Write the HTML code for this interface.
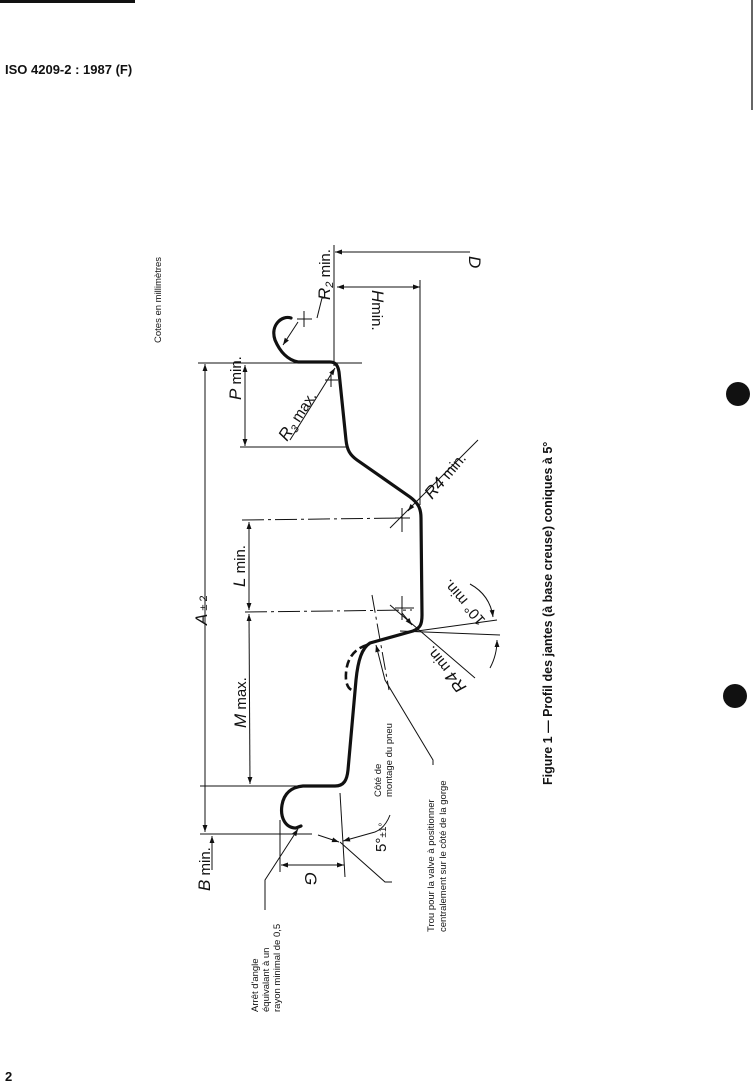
<!DOCTYPE html>
<html><head><meta charset="utf-8"><style>
html,body{margin:0;padding:0;background:#fff;width:754px;height:1090px;overflow:hidden}
svg{display:block}
text{font-family:"Liberation Sans",sans-serif;fill:#111}
.it{font-style:italic;font-size:17px}
.sm{font-size:9.5px}
</style></head><body>
<svg width="754" height="1090" viewBox="0 0 754 1090" xmlns="http://www.w3.org/2000/svg">
<defs>
<marker id="a" viewBox="0 0 10 10" refX="10" refY="5" markerWidth="9" markerHeight="7" orient="auto-start-reverse" markerUnits="userSpaceOnUse"><path d="M0,1.5 L10,5 L0,8.5 z" fill="#111"/></marker>
</defs>
<rect x="0" y="0" width="135" height="3" fill="#111"/>
<line x1="752" y1="0" x2="752" y2="110" stroke="#333" stroke-width="1.5"/>
<text x="5" y="74" style="font-size:13px;font-weight:bold">ISO 4209-2 : 1987 (F)</text>
<text x="5" y="1081" style="font-size:13px;font-weight:bold">2</text>
<circle cx="738" cy="394" r="12" fill="#111"/>
<circle cx="735" cy="696" r="12" fill="#111"/>

<text class="sm" transform="translate(161,343) rotate(-90)">Cotes en millimètres</text>
<text transform="translate(552,785) rotate(-90)" style="font-size:12.5px;font-weight:bold">Figure 1 — Profil des jantes (à base creuse) coniques à 5°</text>

<g fill="none" stroke="#111" stroke-width="1">
<line x1="470" y1="252" x2="335" y2="252" marker-end="url(#a)"/>
<line x1="334" y1="245" x2="334" y2="366"/>
<line x1="337" y1="287" x2="420" y2="287" marker-start="url(#a)" marker-end="url(#a)"/>
<line x1="420" y1="280" x2="420" y2="505"/>
<line x1="205" y1="364" x2="205" y2="832" marker-start="url(#a)" marker-end="url(#a)"/>
<line x1="198" y1="363" x2="362" y2="363"/>
<line x1="200" y1="786" x2="340" y2="786"/>
<line x1="200" y1="834" x2="312" y2="834"/>
<line x1="212" y1="870" x2="212" y2="836" marker-end="url(#a)"/>
<line x1="245" y1="365" x2="245" y2="446" marker-start="url(#a)" marker-end="url(#a)"/>
<line x1="240" y1="447" x2="347" y2="447"/>
<line x1="249" y1="522" x2="249" y2="610" marker-start="url(#a)" marker-end="url(#a)"/>
<line x1="249" y1="614" x2="250" y2="784" marker-start="url(#a)" marker-end="url(#a)"/>
<line x1="242" y1="520" x2="405" y2="518" stroke-dasharray="22,4,3,4"/>
<line x1="245" y1="612" x2="412" y2="610" stroke-dasharray="22,4,3,4"/>
<line x1="280" y1="820" x2="280" y2="872"/>
<line x1="340" y1="793" x2="345" y2="877"/>
<line x1="281" y1="865" x2="344" y2="865" marker-start="url(#a)" marker-end="url(#a)"/>
<line x1="318" y1="835" x2="339" y2="842" marker-end="url(#a)"/>
<line x1="375" y1="832" x2="343" y2="841" marker-end="url(#a)"/>
<path d="M375,832 Q 385,828 390,815"/>
<path d="M340,842 L385,882 L392,882"/>
<line x1="297" y1="319" x2="312" y2="319"/><line x1="304" y1="311" x2="304" y2="327"/>
<line x1="325" y1="380" x2="338" y2="380"/><line x1="331" y1="373" x2="331" y2="387"/>
<line x1="395" y1="518" x2="410" y2="518"/><line x1="402" y1="508" x2="402" y2="532"/>
<line x1="395" y1="608" x2="414" y2="608"/><line x1="402" y1="596" x2="402" y2="620"/>
<path d="M317,318 L322,298 L327,298"/>
<line x1="298" y1="322" x2="283" y2="345" marker-end="url(#a)"/>
<line x1="290" y1="440" x2="335" y2="368" marker-end="url(#a)"/>
<line x1="478" y1="440" x2="390" y2="528"/>
<line x1="412" y1="506" x2="408" y2="511" marker-end="url(#a)"/>
<line x1="390" y1="605" x2="475" y2="678"/>
<line x1="402" y1="613" x2="412" y2="625" marker-end="url(#a)"/>
<line x1="400" y1="631" x2="500" y2="635"/>
<line x1="410" y1="632" x2="497" y2="620"/>
<line x1="372" y1="595" x2="389" y2="690" stroke-dasharray="18,4,3,4"/>
<path d="M470,584 Q 490,595 493,617" marker-end="url(#a)"/>
<path d="M490,668 Q 497,655 497,640" marker-end="url(#a)"/>
<path d="M433,765 L433,760 L385,680 L376,645" marker-end="url(#a)"/>
<path d="M265,910 L265,880 L298,829" marker-end="url(#a)"/>
</g>

<g fill="none" stroke="#111" stroke-width="3.2" stroke-linecap="round" stroke-linejoin="round">
<path d="M291,318 C282,315 270,325 275,340 C280,352 288,360 298,362 L330,362 C336,362 338,366 339,372 L346,440 C347,450 350,455 357,460 L410,497 C418,503 421,508 421,518 L422,615 C422,625 420,628 413,631 L370,643 C362,648 358,660 356,680 L348,770 C347,780 344,786 335,786 L303,786 C292,787 284,793 282,805 C280,817 285,828 296,828 L301,826"/>
</g>
<path d="M367,645 C350,650 345,665 346,680 C347,686 349,689 352,690" fill="none" stroke="#111" stroke-width="2.6" stroke-dasharray="8,4"/>

<text class="it" transform="translate(469,256) rotate(90)">D</text>
<text class="it" transform="translate(372,290) rotate(90)">H<tspan style="font-style:normal;font-size:15px">min.</tspan></text>
<text class="it" transform="translate(330,300) rotate(-90)">R<tspan style="font-size:11px" dy="3">2</tspan><tspan dy="-3" style="font-style:normal;font-size:15px"> min.</tspan></text>
<text class="it" transform="translate(287,442) rotate(-57)">R<tspan style="font-size:11px" dy="3">3</tspan><tspan dy="-3" style="font-style:normal;font-size:15px"> max.</tspan></text>
<text class="it" transform="translate(432,500) rotate(-50)">R4<tspan style="font-style:normal;font-size:15px"> min.</tspan></text>
<text class="it" transform="translate(467,687) rotate(-129)">R4<tspan style="font-style:normal;font-size:15px"> min.</tspan></text>
<text transform="translate(486,620) rotate(-131)" style="font-size:15px">10° min.</text>
<text class="it" transform="translate(207,625) rotate(-90)">A<tspan style="font-style:normal;font-size:11px"> ± 2</tspan></text>
<text class="it" transform="translate(241,400) rotate(-90)">P<tspan style="font-style:normal;font-size:15px"> min.</tspan></text>
<text class="it" transform="translate(245,587) rotate(-90)">L<tspan style="font-style:normal;font-size:15px"> min.</tspan></text>
<text class="it" transform="translate(246,728) rotate(-90)">M<tspan style="font-style:normal;font-size:15px"> max.</tspan></text>
<text class="it" transform="translate(210,891) rotate(-90)">B<tspan style="font-style:normal;font-size:15px"> min.</tspan></text>
<text class="it" transform="translate(305,872) rotate(90)">G</text>
<text transform="translate(386,852) rotate(-90)" style="font-size:15px">5°<tspan style="font-size:10px">±1°</tspan></text>
<text class="sm" transform="translate(381,797) rotate(-90)">Côté de</text>
<text class="sm" transform="translate(392,797) rotate(-90)">montage du pneu</text>
<text class="sm" transform="translate(434,932) rotate(-90)">Trou pour la valve à positionner</text>
<text class="sm" transform="translate(446,932) rotate(-90)">centralement sur le côté de la gorge</text>
<text class="sm" transform="translate(258,1012) rotate(-90)">Arrêt d'angle</text>
<text class="sm" transform="translate(269,1012) rotate(-90)">équivalant à un</text>
<text class="sm" transform="translate(280,1012) rotate(-90)">rayon minimal de 0,5</text>
</svg>
</body></html>
